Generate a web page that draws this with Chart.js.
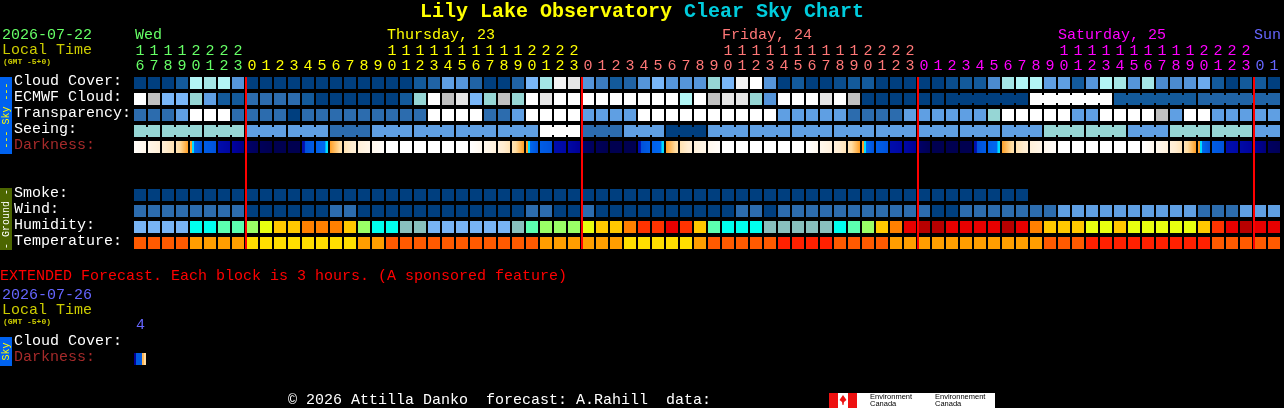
<!DOCTYPE html>
<html>
<head>
<meta charset="utf-8">
<title>Lily Lake Observatory Clear Sky Chart</title>
<script src="https://cdn.jsdelivr.net/npm/chart.js@4"></script>
<style>
  body { margin: 0; background: #000; overflow: hidden; }
  canvas { display: block; }
</style>
</head>
<body>
<canvas id="csc" width="1284" height="408"></canvas>
<script>
// ---------------- DATA ----------------

const hours = [
  16, 17, 18, 19, 20, 21, 22, 23,
  0, 1, 2, 3, 4, 5, 6, 7, 8, 9, 10, 11, 12, 13, 14, 15, 16, 17, 18, 19, 20, 21, 22, 23,
  0, 1, 2, 3, 4, 5, 6, 7, 8, 9, 10, 11, 12, 13, 14, 15, 16, 17, 18, 19, 20, 21, 22, 23,
  0, 1, 2, 3, 4, 5, 6, 7, 8, 9, 10, 11, 12, 13, 14, 15, 16, 17, 18, 19, 20, 21, 22, 23,
  0, 1
];

const midnights = [8, 32, 56, 80];

// cloud in tenths of sky covered
const cloudCover = [
  0, 0, 0, 1, 7, 6.5, 7, 3.5,
  0, 0, 0, 0, 0, 0, 0, 0, 0, 0, 0, 0, 1, 1.5, 4, 3.5, 1.5, 0, 0, 1.5, 5, 6.5, 9.5, 9,
  3.5, 2.5, 1, 1.5, 3.5, 5, 3.5, 3.5, 3.5, 6, 5, 9.5, 10, 3.5, 0, 1, 0, 0, 0.5, 1, 1, 0, 0, 0,
  0, 0, 0.5, 1, 1, 3, 6.5, 7, 7, 4, 4, 1, 3.5, 7, 6.5, 3.5, 6.5, 3, 3, 3.5, 4.5, 1, 0, 1,
  1, 0
];
const ecmwfCloud = [
  10, 8, 5, 5, 6, 4, 1, 1,
  2, 2, 2, 2, 1, 0, 0, 0, 0, 0, 0, 1, 6, 10, 8, 9, 5, 6, 8, 6, 10, 9, 10, 10,
  10, 10, 10, 10, 10, 10, 10, 7, 10, 8, 9, 9, 6, 3.5, 10, 10, 10, 9, 10, 8, 0, 0, 0, 0,
  0, 0, 0, 0, 0, 0, 0, 0, 10, 10, 10, 10, 10, 10, 1, 1, 1, 1, 1, 1, 1.5, 1.5, 1.5, 1.5,
  1.5, 1.5
];
const ecmwfBlocks = [58, 64, 70, 76];

// 0 best .. 4 poor, 5 = too cloudy to forecast
const transparency = [
  1, 1, 1, 2, 5, 5, 5, 1,
  1, 1, 1, 0, 1, 1, 1, 1, 1, 1, 1, 1, 1, 5, 5, 5, 5, 1, 1, 2, 5, 5, 5, 5,
  2, 2, 2, 2, 5, 5, 5, 5, 5, 5, 5, 5, 5, 5, 2, 2, 2, 2, 2, 1, 1, 1, 1, 2,
  2, 2, 2, 2, 2, 3, 5, 5, 5, 5, 5, 2, 2, 5, 5, 5, 5, 4, 2, 5, 5, 2, 2, 2,
  2, 2
];
const seeing = [
  3, 3, 3, 3, 3, 3, 3, 3,
  2, 2, 2, 2, 2, 2, 1, 1, 1, 2, 2, 2, 2, 2, 2, 2, 2, 2, 2, 2, 2, 5, 5, 5,
  1, 1, 1, 2, 2, 2, 0, 0, 0, 2, 2, 2, 2, 2, 2, 2, 2, 2, 2, 2, 2, 2, 2, 2,
  2, 2, 2, 2, 2, 2, 2, 2, 2, 3, 3, 3, 3, 3, 3, 2, 2, 2, 3, 3, 3, 3, 3, 3,
  2, 2
];
const seeingBlocks = [
  0, 2, 5, 8, 11, 14, 17, 20, 23, 26, 29, 32, 35, 38, 41, 44, 47, 50,
  53, 56, 59, 62, 65, 68, 71, 74, 77, 80
];

// darkness at the left and right edge of each hour, 0 = daylight, 8 = full night
const darkStart = [
  0.3, 1, 1.8, 2.6, 3.95, 4.6, 5.2, 5.8,
  7, 7.6, 8, 8, 5.1, 4.5, 3.95, 2.6, 1.6, 0.8, 0, 0, 0, 0, 0, 0, 0, 0.8, 1.6, 2.6, 3.95, 4.6, 5.2, 5.5,
  7, 7.6, 8, 8, 5.1, 4.5, 3.95, 2.6, 1.6, 0.8, 0, 0, 0, 0, 0, 0, 0, 0.8, 1.6, 2.6, 3.95, 4.6, 5.2, 5.5,
  7, 8, 8, 8, 5.1, 4.5, 3.95, 2.6, 1.6, 0.8, 0, 0, 0, 0, 0, 0, 0, 0.8, 1.6, 2.6, 3.95, 4.6, 5.15, 5.4,
  6, 7.3
];
const darkEnd = [
  0.9, 1.7, 2.6, 3.95, 4.9, 4.9, 5.6, 6.4,
  7.5, 8, 8, 8, 4.6, 4.2, 2.8, 1.7, 1, 0.3, 0, 0, 0, 0, 0, 0, 0.7, 1.5, 2.5, 3.95, 4.9, 4.9, 5.5, 6,
  7.5, 8, 8, 8, 4.6, 4.2, 2.8, 1.7, 1, 0.3, 0, 0, 0, 0, 0, 0, 0.7, 1.5, 2.5, 3.95, 4.9, 4.9, 5.5, 6,
  7.8, 8, 8, 8, 4.6, 4.2, 2.8, 1.7, 1, 0.3, 0, 0, 0, 0, 0, 0, 0.7, 1.5, 2.5, 3.95, 4.9, 4.9, 5.4, 5.8,
  6.6, 7.7
];

// 0 = smoke free, null where there is no forecast
const smoke = [
  0, 0, 0, 0, 0, 0, 0, 0,
  0, 0, 0, 0, 0, 0, 0, 0, 0, 0, 0, 0, 0, 0, 0, 0, 0, 0, 0, 0, 0, 0, 0, 0,
  0, 0, 0, 0, 0, 0, 0, 0, 0, 0, 0, 0, 0, 0, 0, 0, 0, 0, 0, 0, 0, 0, 0, 0,
  0, 0, 0, 0, 0, 0, 0, 0, null, null, null, null, null, null, null, null, null, null, null, null, null, null, null, null,
  null, null
];
const wind = [
  1, 1, 1, 1, 1, 1, 1, 1,
  0, 0, 0, 0, 0, 0, 1, 1, 0, 0, 0, 0, 0, 0, 0, 0, 0, 0, 0, 0, 1, 1, 0, 0,
  1, 0, 0, 0, 0, 0, 0, 0, 0, 0, 0, 1, 1, 0, 1, 1, 1, 1, 1, 1, 1, 1, 1, 1,
  1, 0, 0, 1, 1, 1, 1, 1, 1, 1, 2, 2, 2, 2, 2, 2, 2, 2, 2, 2, 1, 1, 1, 2,
  2, 2
];
const humidity = [
  0, 0, 0, 0, 2, 2, 3, 3,
  4, 5, 6, 6, 7, 7, 7, 6, 4, 2, 2, 1, 1, 0, 0, 0, 0, 0, 0, 1, 3, 4, 4, 4,
  5, 6, 6, 7, 8, 8, 9, 8, 6, 3, 2, 2, 2, 1, 1, 1, 1, 1, 2, 3, 4, 6, 7, 9,
  10, 10, 9, 9, 9, 9, 10, 9, 7, 6, 6, 6, 5, 5, 6, 5, 5, 5, 5, 5, 6, 8, 9, 10,
  9, 9
];
const temperature = [
  2, 2, 2, 2, 1, 1, 1, 1,
  0, 0, 0, 0, 0, 0, 0, 0, 1, 1, 2, 2, 2, 2, 2, 2, 2, 2, 2, 2, 2, 1, 1, 1,
  1, 1, 1, 0, 0, 0, 0, 0, 1, 2, 2, 2, 2, 2, 3, 3, 3, 3, 2, 2, 2, 2, 1, 1,
  1, 1, 1, 1, 1, 1, 1, 1, 1, 2, 2, 2, 3, 3, 3, 3, 3, 3, 3, 3, 3, 2, 2, 2,
  2, 2
];

// extended forecast, one 3 hour block squeezed in a cell
const extendedHours = ["4"];
const extendedDark = [6, 6, 4.7, 4.7, 4.7, 4.7, 4.7, 4.7, 3.6, 3.6, 3, 3];

const rowLabels = {
  0: "Cloud Cover:", 1: "ECMWF Cloud:", 2: "Transparency:", 3: "Seeing:", 4: "Darkness:",
  7: "Smoke:", 8: "Wind:", 9: "Humidity:", 10: "Temperature:",
  16.25: "Cloud Cover:", 17.25: "Darkness:"
};

// ---------------- COLOURS ----------------

const cloudRamp = [
  [0, "#003f7f"], [1, "#135a9b"], [2, "#2c6cae"], [3, "#4b8bd0"], [4, "#5f9fe3"],
  [5, "#79b6f7"], [6, "#96d6d5"], [7, "#b2f6f6"], [8, "#c0c0c0"], [9, "#e6e6e6"], [10, "#ffffff"]
];
const darkRamp = [
  [0, "#ffffff"], [1, "#fff6e8"], [2, "#ffecd0"], [3, "#ffdca0"], [4.05, "#ff9c20"],
  [4.06, "#00dcff"], [4.25, "#00dcff"], [4.26, "#0068f0"], [5, "#0050d8"],
  [5.01, "#0010b0"], [6, "#000098"], [7, "#000068"], [8, "#000050"]
];
const qualityColors = ["#003f7f", "#2c6cae", "#5f9fe3", "#96d6d5", "#c0c0c0", "#ffffff"];
const humidityColors = [
  "#78b4f5", "#88c0be", "#00ffee", "#5cffb0", "#9aff66", "#e8ff10",
  "#ffc800", "#ff8000", "#ff3300", "#e80000", "#b80000"
];
const temperatureColors = ["#ffde00", "#ff9e00", "#ff5a00", "#ff2000"];
const dayColors = ["#66ff66", "#ffff00", "#ff7777", "#ff00ff", "#6666ff"];

function rgb(hex) {
  return [1, 3, 5].map(i => parseInt(hex.substr(i, 2), 16));
}

function ramp(stops, v) {
  for (let i = 1; i < stops.length; i++) {
    if (v <= stops[i][0]) {
      const t = (v - stops[i - 1][0]) / (stops[i][0] - stops[i - 1][0]);
      const a = rgb(stops[i - 1][1]), b = rgb(stops[i][1]);
      return "rgb(" + a.map((c, k) => Math.round(c + (b[k] - c) * Math.max(t, 0))).join(",") + ")";
    }
  }
  return stops[stops.length - 1][1];
}

// day each column belongs to, a new one after every midnight
function dayOf(col) {
  return midnights.filter(m => col >= m).length;
}

// ---------------- DATASETS ----------------

const cellHalf = 0.375;   // 12 px of a 16 px row
const linkHalf = 0.25;

function cellRow(values, r, colorOf) {
  return {
    data: values.map(v => v === null ? null : [r - cellHalf, r + cellHalf]),
    backgroundColor: values.map(v => v === null ? "#000" : colorOf(v)),
    barThickness: 12
  };
}

// the narrow joins between hours of one forecast block
function linkRow(values, r, blocks, colorOf) {
  const links = [];
  blocks.forEach((start, b) => {
    const end = b + 1 < blocks.length ? blocks[b + 1] : values.length;
    for (let i = start; i < end - 1; i++) links.push(i);
  });
  return {
    xAxisID: "xEdge",
    data: links.map(i => ({ x: i + 1, y: [r - linkHalf, r + linkHalf] })),
    backgroundColor: links.map(i => colorOf(values[i])),
    barThickness: 2
  };
}

function darkGradient(chart, col, at) {
  const x0 = chart.scales.x.getPixelForValue(col) - 6;
  if (!Number.isFinite(x0)) return "#000";   // scale not laid out yet
  const g = chart.ctx.createLinearGradient(x0, 0, x0 + 12, 0);
  for (let k = 0; k < 12; k++) {
    const c = ramp(darkRamp, at(k));
    g.addColorStop(k / 12, c);
    g.addColorStop((k + 1) / 12, c);
  }
  return g;
}

function darkRow(r) {
  return {
    data: hours.map(() => [r - cellHalf, r + cellHalf]),
    backgroundColor: c => {
      const i = c.dataIndex;
      if (i === undefined) return "#000";
      return darkGradient(c.chart, i, k => darkStart[i] + (darkEnd[i] - darkStart[i]) * k / 11);
    },
    barThickness: 12
  };
}

function extendedRow(r) {
  return {
    data: [[r - cellHalf, r + cellHalf]],
    backgroundColor: c => c.dataIndex === undefined ? "#000" : darkGradient(c.chart, 0, k => extendedDark[k]),
    barThickness: 12
  };
}

const cloudColor = v => ramp(cloudRamp, v);
const qualityColor = v => qualityColors[v];

const datasets = [
  {
    xAxisID: "xEdge",
    data: midnights.map(m => ({ x: m + 1 / 14, y: [-0.375, 10.375] })),
    backgroundColor: "#ff0000",
    barThickness: 2
  },
  cellRow(cloudCover, 0, cloudColor),
  cellRow(ecmwfCloud, 1, cloudColor),
  linkRow(ecmwfCloud, 1, ecmwfBlocks, cloudColor),
  cellRow(transparency, 2, qualityColor),
  cellRow(seeing, 3, qualityColor),
  linkRow(seeing, 3, seeingBlocks, qualityColor),
  darkRow(4),
  cellRow(smoke, 7, qualityColor),
  cellRow(wind, 8, qualityColor),
  cellRow(humidity, 9, v => humidityColors[v]),
  cellRow(temperature, 10, v => temperatureColors[v]),
  extendedRow(17.25)
];
datasets.forEach(d => { d.grouped = false; d.inflateAmount = 0; d.borderWidth = 0; });

// ---------------- TEXT AROUND THE CHART ----------------

const MONO = "'Liberation Mono'";

function text(ctx, s, x, y, color, font) {
  ctx.fillStyle = color;
  ctx.font = font || "15px " + MONO;
  ctx.textAlign = "left";
  ctx.textBaseline = "middle";
  ctx.fillText(s, x, y);
}

function sideTag(ctx, s, y0, y1, back, color) {
  ctx.fillStyle = back;
  ctx.fillRect(0, y0, 12, y1 - y0);
  ctx.save();
  ctx.translate(6, (y0 + y1) / 2);
  ctx.rotate(-Math.PI / 2);
  ctx.fillStyle = color;
  ctx.font = "10px " + MONO;
  ctx.textAlign = "center";
  ctx.textBaseline = "middle";
  ctx.fillText(s, 0, 0);
  ctx.restore();
}

const decorations = {
  id: "decorations",
  afterDraw(chart) {
    const ctx = chart.ctx;
    const smallFont = "bold 8px " + MONO;

    text(ctx, "Lily Lake Observatory", 420, 12, "#ffff00", "bold 20px " + MONO);
    text(ctx, "Clear Sky Chart", 684, 12, "#00ccdd", "bold 20px " + MONO);

    text(ctx, "2026-07-22", 2, 35, dayColors[0]);
    text(ctx, "Local Time", 2, 50, "#cccc00");
    text(ctx, "(GMT -5+0)", 3, 62, "#cccc00", smallFont);

    text(ctx, "Wed", 135, 35, dayColors[0]);
    text(ctx, "Thursday, 23", 387, 35, dayColors[1]);
    text(ctx, "Friday, 24", 722, 35, dayColors[2]);
    text(ctx, "Saturday, 25", 1058, 35, dayColors[3]);
    text(ctx, "Sun", 1254, 35, dayColors[4]);

    sideTag(ctx, "--- Sky ---", 77, 154, "#0062f0", "#ffff00");
    sideTag(ctx, "- Ground -", 188, 250, "#4c6600", "#ffffff");
    sideTag(ctx, "Sky", 337, 366, "#0062f0", "#ffff00");

    text(ctx, "EXTENDED Forecast. Each block is 3 hours. (A sponsored feature)", 0, 276, "#ff0000");
    text(ctx, "2026-07-26", 2, 295, dayColors[4]);
    text(ctx, "Local Time", 2, 310, "#cccc00");
    text(ctx, "(GMT -5+0)", 3, 322, "#cccc00", smallFont);
    text(ctx, extendedHours[0], chart.scales.x.getPixelForValue(0) - 4, 325, dayColors[4]);

    text(ctx, "\u00a9 2026 Attilla Danko  forecast: A.Rahill  data:", 288, 400, "#ffffff");

    // Environment Canada logo
    ctx.fillStyle = "#ffffff";
    ctx.fillRect(829, 393, 166, 15);
    ctx.fillStyle = "#ee1111";
    ctx.fillRect(829, 393, 9, 15);
    ctx.fillRect(848, 393, 9, 15);
    ctx.beginPath();
    ctx.moveTo(843, 395);
    ctx.lineTo(846.5, 400);
    ctx.lineTo(844, 402);
    ctx.lineTo(843.5, 405);
    ctx.lineTo(842.5, 405);
    ctx.lineTo(842, 402);
    ctx.lineTo(839.5, 400);
    ctx.closePath();
    ctx.fill();
    const logoFont = "7.5px 'Liberation Sans'";
    text(ctx, "Environment", 870, 397, "#000000", logoFont);
    text(ctx, "Canada", 870, 404, "#000000", logoFont);
    text(ctx, "Environnement", 935, 397, "#000000", logoFont);
    text(ctx, "Canada", 935, 404, "#000000", logoFont);
  }
};

// ---------------- CHART ----------------

new Chart(document.getElementById("csc"), {
  type: "bar",
  data: { labels: hours, datasets: datasets },
  plugins: [decorations],
  options: {
    responsive: false,
    devicePixelRatio: 1,
    animation: false,
    events: [],
    layout: { padding: { left: 14, right: 3, top: 0, bottom: 0 } },
    plugins: { legend: { display: false }, tooltip: { enabled: false } },
    scales: {
      x: {
        position: "top",
        offset: true,
        grid: { display: false, drawTicks: false },
        border: { display: false },
        afterFit: s => { s.height = 77; s.paddingLeft = 0; s.paddingRight = 0; },
        ticks: {
          autoSkip: false,
          maxRotation: 0,
          minRotation: 0,
          padding: 3,
          font: { family: "Liberation Mono", size: 15, lineHeight: 1 },
          color: c => dayColors[dayOf(c.index)],
          callback: (v, i) => {
            const h = String(hours[i]);
            return h.length < 2 ? ["", h] : [h[0], h[1]];
          }
        }
      },
      xEdge: { type: "linear", display: false, offset: false, min: 0, max: 82 },
      y: {
        reverse: true,
        min: -0.375,
        max: 20.3125,
        grid: { display: false, drawTicks: false },
        border: { display: false },
        afterFit: s => { s.width = 119; s.paddingTop = 0; s.paddingBottom = 0; },
        afterBuildTicks: s => {
          s.ticks = Object.keys(rowLabels).map(k => ({ value: Number(k) }));
        },
        ticks: {
          autoSkip: false,
          crossAlign: "far",
          labelOffset: -2,
          font: { family: "Liberation Mono", size: 15 },
          color: c => rowLabels[c.tick.value] === "Darkness:" ? "#a52a2a" : "#ffffff",
          callback: v => rowLabels[v]
        }
      }
    }
  }
});
</script>
</body>
</html>
